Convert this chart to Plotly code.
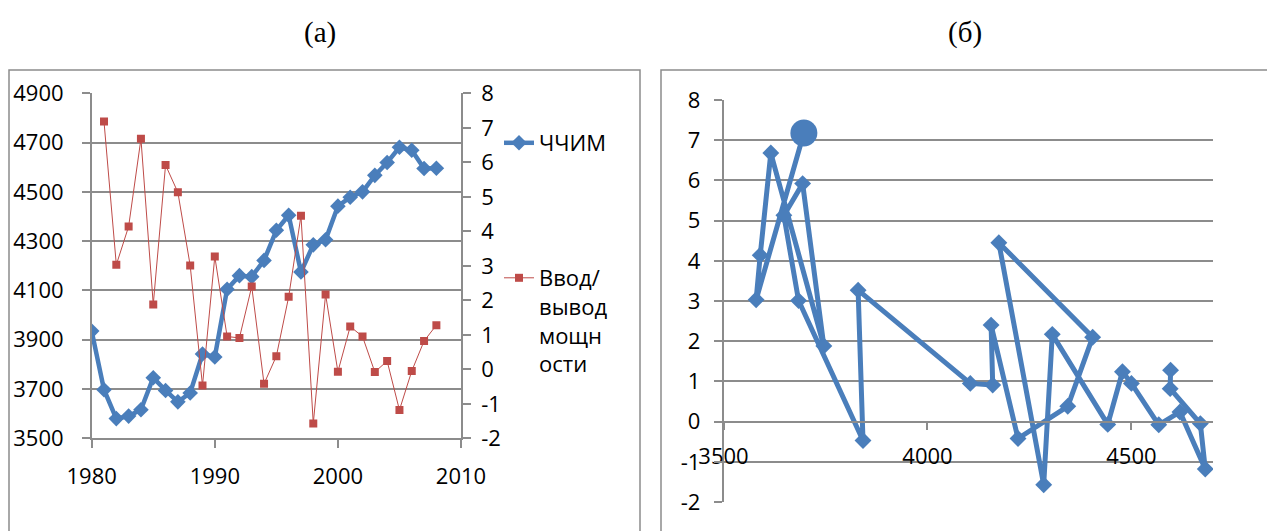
import plotly.graph_objects as go

# годы и ряды
years = list(range(1980, 2009))
chchim = [3935, 3697, 3580, 3590, 3616, 3746, 3694, 3648, 3684, 3842,
          3830, 4105, 4160, 4156, 4222, 4344, 4405, 4175, 4285, 4306,
          4442, 4478, 4500, 4567, 4619, 4681, 4669, 4595, 4596]
# ввод/вывод мощности начинается с 1981
vvod_years = list(range(1981, 2009))
vvod = [7.18, 3.03, 4.14, 6.68, 1.88, 5.92, 5.13, 3.01, -0.47, 3.27,
        0.95, 0.91, 2.40, -0.42, 0.38, 2.10, 4.45, -1.57, 2.17, -0.07,
        1.24, 0.95, -0.08, 0.24, -1.18, -0.05, 0.82, 1.28]

# подписи шкалы ввода/вывода (обычный дефис, как в Excel)
vvod_ticks = list(range(-2, 9))
vvod_ticktext = [str(v) for v in vvod_ticks]

# страница имеет отступ body 8px, поэтому фигура чуть меньше окна
OFF = 8
W, H = 1275 - OFF, 531 - OFF
BLUE = '#4a7ebb'
RED = '#be4b48'
GRID = '#8c8c8c'
FONT = 'Open Sans'


def px(x):
    return (x - OFF) / W


def py(y):
    return 1 - (y - OFF) / H


fig = go.Figure()

# (а) временные ряды
fig.add_trace(go.Scatter(x=years, y=chchim, name='ЧЧИМ', mode='lines+markers',
                         line=dict(color=BLUE, width=4.5),
                         marker=dict(symbol='diamond', size=12, color=BLUE, line=dict(width=0)),
                         xaxis='x', yaxis='y', legend='legend'))
fig.add_trace(go.Scatter(x=vvod_years, y=vvod, name='Ввод/<br>вывод<br>мощн<br>ости',
                         mode='lines+markers', line=dict(color=RED, width=1),
                         marker=dict(symbol='square', size=8, color=RED, line=dict(width=0)),
                         xaxis='x', yaxis='y2', legend='legend2'))

# (б) фазовая диаграмма: ЧЧИМ против ввода/вывода
x_scatter = chchim[1:]
symbols = ['circle'] + ['diamond'] * (len(vvod) - 1)
sizes = [27] + [13] * (len(vvod) - 1)
fig.add_trace(go.Scatter(x=x_scatter, y=vvod, mode='lines+markers', showlegend=False,
                         line=dict(color=BLUE, width=5),
                         marker=dict(symbol=symbols, size=sizes, color=BLUE, opacity=1,
                                     line=dict(width=0)),
                         xaxis='x3', yaxis='y3'))

ax = dict(showline=True, linecolor=GRID, linewidth=1.5, ticks='outside', ticklen=8,
          tickcolor=GRID, tickwidth=1.5, tickfont=dict(family=FONT, size=22, color='black'),
          zeroline=False, automargin=False)

ldom_x = [px(91.7), px(461)]
ldom_y = [py(438.3), py(93.3)]
rdom_x = [px(723.5), px(1213)]
rdom_y = [py(502), py(100)]

fig.update_layout(
    template='none',
    width=W, height=H, margin=dict(l=0, r=0, t=0, b=0, autoexpand=False),
    paper_bgcolor='white', plot_bgcolor='white',
    xaxis=dict(ax, domain=ldom_x, anchor='y', range=[1980, 2010],
               tickvals=[1980, 1990, 2000, 2010], showgrid=False, ticklabelstandoff=10),
    yaxis=dict(ax, domain=ldom_y, anchor='x', range=[3500, 4900], tick0=3500, dtick=200,
               showgrid=True, gridcolor=GRID, gridwidth=1.5, ticklabelstandoff=14),
    yaxis2=dict(ax, overlaying='y', side='right', anchor='x', range=[-2, 8],
                tickvals=vvod_ticks, ticktext=vvod_ticktext,
                showgrid=False, ticklabelstandoff=6),
    xaxis3=dict(ax, domain=rdom_x, anchor='free',
                position=rdom_y[0] + 0.2 * (rdom_y[1] - rdom_y[0]),
                range=[3500, 4700], tickvals=[3500, 4000, 4500], showgrid=False,
                ticklabelstandoff=7),
    yaxis3=dict(ax, domain=rdom_y, anchor='x3', range=[-2, 8],
                tickvals=vvod_ticks, ticktext=vvod_ticktext,
                showgrid=True, gridcolor=GRID, gridwidth=1.5, ticklabelstandoff=9),
    legend=dict(x=px(499), y=py(122), xanchor='left', yanchor='top',
                bgcolor='rgba(0,0,0,0)', font=dict(family=FONT, size=22, color='black')),
    legend2=dict(x=px(499), y=py(257), xanchor='left', yanchor='top', valign='top',
                 bgcolor='rgba(0,0,0,0)', font=dict(family=FONT, size=22, color='black')),
    showlegend=True,
)

# рамки областей диаграмм
for x0, x1 in [(9, 640), (661, 1269)]:
    fig.add_shape(type='rect', xref='paper', yref='paper', x0=px(x0), x1=px(x1),
                  y0=-0.1, y1=py(70), line=dict(color=GRID, width=1.5), layer='below')

fig.add_annotation(text='(а)', x=px(320), y=py(32), xref='paper', yref='paper',
                   xanchor='center', yanchor='middle', showarrow=False,
                   font=dict(family='Liberation Serif', size=29, color='black'))
fig.add_annotation(text='(б)', x=px(965), y=py(32), xref='paper', yref='paper',
                   xanchor='center', yanchor='middle', showarrow=False,
                   font=dict(family='Liberation Serif', size=29, color='black'))

fig.write_html("out.html")
